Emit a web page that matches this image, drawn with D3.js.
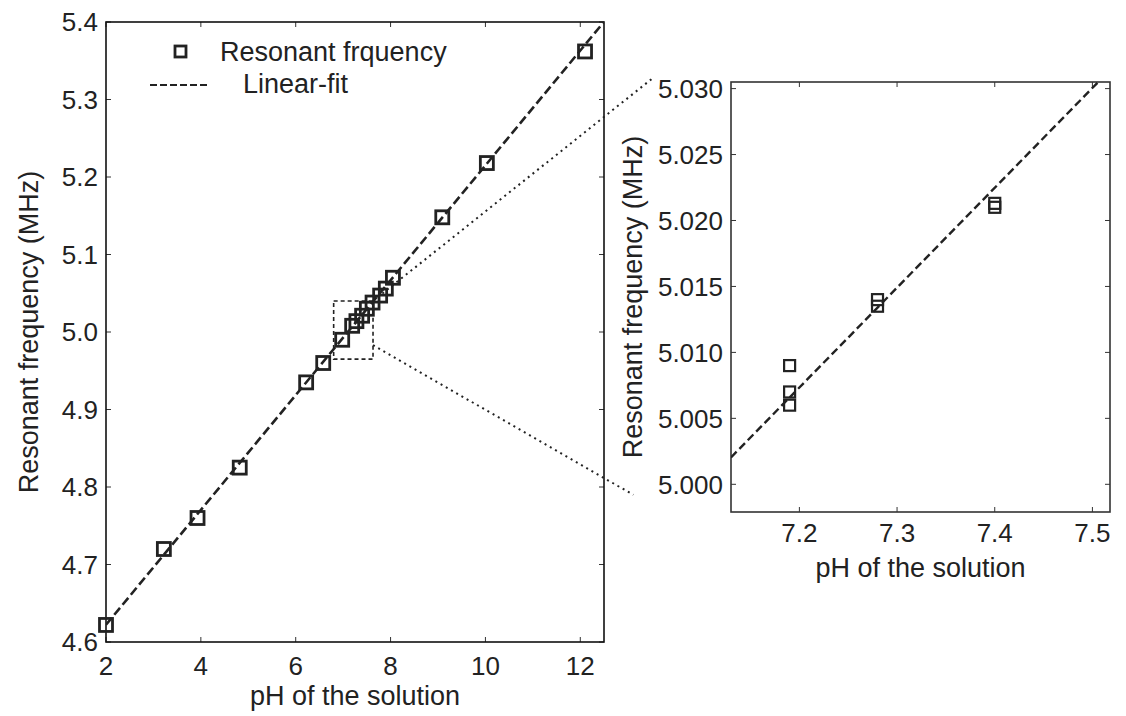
<!DOCTYPE html>
<meta charset="utf-8">
<head>
<style>
body { margin: 0; background: #fff; }
text { font-family: "Liberation Sans", Arial, sans-serif; fill: #222; }
</style>
</head>
<script src="https://d3js.org/d3.v7.min.js"></script>
<div id="chart"></div>
<script>

// main plot data: pH vs resonant frequency (MHz)
var phValues   = [2.0, 3.22, 3.93, 4.82, 6.22, 6.58, 6.98, 7.19, 7.28, 7.40, 7.50, 7.62, 7.78, 7.90, 8.05, 9.09, 10.03, 12.1];
var freqValues = [4.622, 4.720, 4.760, 4.825, 4.935, 4.960, 4.990, 5.008, 5.014, 5.021, 5.030, 5.038, 5.047, 5.056, 5.070, 5.148, 5.218, 5.362];

// zoomed-in points (inset)
var insetPh   = [7.19, 7.19, 7.19, 7.28, 7.28, 7.40, 7.40];
var insetFreq = [5.009, 5.007, 5.006, 5.014, 5.0135, 5.0213, 5.0210];

// linear fits [intercept, slope]
var fitMain  = [4.474, 0.0741];
var fitInset = [4.4623, 0.0757];

// tick labels
var mainXTicks  = [2, 4, 6, 8, 10, 12];
var mainYTicks  = [4.6, 4.7, 4.8, 4.9, 5.0, 5.1, 5.2, 5.3, 5.4];
var insetXTicks = [7.2, 7.3, 7.4, 7.5];
var insetYTicks = [5.000, 5.005, 5.010, 5.015, 5.020, 5.025, 5.030];

// zoom box in main-plot units, connector ends in inset units
var zoomBoxPh   = [6.8, 7.63];
var zoomBoxFreq = [4.965, 5.04];
var connStartFreq = [5.04, 4.983];
var connEndPh   = [7.05, 7.03];
var connEndFreq = [5.0308, 4.9992];

var W = 1126, H = 716;
var svg = d3.select("#chart").append("svg")
  .attr("width", W).attr("height", H);

// ---------- main plot ----------
var m = {left: 106, top: 22, right: 604, bottom: 642};
var x = d3.scaleLinear().domain([2, 12.5]).range([m.left, m.right]);
var y = d3.scaleLinear().domain([4.6, 5.4]).range([m.bottom, m.top]);

// ---------- inset ----------
var n = {left: 731, top: 82, right: 1110, bottom: 512};
var xi = d3.scaleLinear().domain([7.13, 7.518]).range([n.left, n.right]);
var yi = d3.scaleLinear().domain([4.9979, 5.0305]).range([n.bottom, n.top]);

var tickFont = "26px";
var labelFont = "27px";

function drawAxes(xs, ys, box, xt, yt, yfmt, frameColor, tickGap) {
  var g = svg.append("g");
  // inward ticks, all four sides
  xt.forEach(function(t) {
    g.append("line").attr("x1", xs(t)).attr("x2", xs(t))
      .attr("y1", box.bottom).attr("y2", box.bottom - 5).attr("stroke", "#333");
    g.append("line").attr("x1", xs(t)).attr("x2", xs(t))
      .attr("y1", box.top).attr("y2", box.top + 5).attr("stroke", "#333");
    g.append("text").attr("x", xs(t)).attr("y", box.bottom + tickGap)
      .attr("text-anchor", "middle").style("font-size", tickFont)
      .text(t);
  });
  yt.forEach(function(t) {
    g.append("line").attr("x1", box.left).attr("x2", box.left + 5)
      .attr("y1", ys(t)).attr("y2", ys(t)).attr("stroke", "#333");
    g.append("line").attr("x1", box.right).attr("x2", box.right - 5)
      .attr("y1", ys(t)).attr("y2", ys(t)).attr("stroke", "#333");
    g.append("text").attr("x", box.left - 8).attr("y", ys(t)).attr("dy", "0.36em")
      .attr("text-anchor", "end").style("font-size", tickFont)
      .text(yfmt(t));
  });
  g.append("rect")
    .attr("x", box.left).attr("y", box.top)
    .attr("width", box.right - box.left).attr("height", box.bottom - box.top)
    .attr("fill", "none").attr("stroke", frameColor).attr("stroke-width", 1.6);
}

drawAxes(x, y, m, mainXTicks, mainYTicks, d3.format(".1f"), "#111", 33);
drawAxes(xi, yi, n, insetXTicks, insetYTicks, d3.format(".3f"), "#333", 30);

// axis labels
svg.append("text").attr("x", (m.left + m.right) / 2).attr("y", 705)
  .attr("text-anchor", "middle").style("font-size", labelFont).text("pH of the solution");
svg.append("text").attr("transform", "translate(38," + ((m.top + m.bottom) / 2) + ") rotate(-90)")
  .attr("text-anchor", "middle").style("font-size", labelFont).text("Resonant frequency (MHz)");
svg.append("text").attr("x", (n.left + n.right) / 2).attr("y", 577)
  .attr("text-anchor", "middle").style("font-size", labelFont).text("pH of the solution");
svg.append("text").attr("transform", "translate(642," + ((n.top + n.bottom) / 2) + ") rotate(-90)")
  .attr("text-anchor", "middle").style("font-size", labelFont).text("Resonant frequency (MHz)");

// clip paths
svg.append("clipPath").attr("id", "clipMain").append("rect")
  .attr("x", m.left).attr("y", m.top).attr("width", m.right - m.left).attr("height", m.bottom - m.top);
svg.append("clipPath").attr("id", "clipInset").append("rect")
  .attr("x", n.left).attr("y", n.top).attr("width", n.right - n.left).attr("height", n.bottom - n.top);

// fit lines
var xdm = x.domain();
svg.append("line").attr("clip-path", "url(#clipMain)")
  .attr("x1", x(xdm[0])).attr("y1", y(fitMain[0] + fitMain[1] * xdm[0]))
  .attr("x2", x(xdm[1])).attr("y2", y(fitMain[0] + fitMain[1] * xdm[1]))
  .attr("stroke", "#222").attr("stroke-width", 2.6).attr("stroke-dasharray", "9,4");
var xdi = xi.domain();
svg.append("line").attr("clip-path", "url(#clipInset)")
  .attr("x1", xi(xdi[0])).attr("y1", yi(fitInset[0] + fitInset[1] * xdi[0]))
  .attr("x2", xi(xdi[1])).attr("y2", yi(fitInset[0] + fitInset[1] * xdi[1]))
  .attr("stroke", "#222").attr("stroke-width", 2.4).attr("stroke-dasharray", "8,4");

// main markers
var s = 13;
svg.append("g").selectAll("rect").data(phValues).enter().append("rect")
  .attr("x", function(d) { return x(d) - s / 2; })
  .attr("y", function(d, i) { return y(freqValues[i]) - s / 2; })
  .attr("width", s).attr("height", s)
  .attr("fill", "none").attr("stroke", "#222").attr("stroke-width", 2.8);

// inset markers
var si = 11;
svg.append("g").selectAll("rect").data(insetPh).enter().append("rect")
  .attr("x", function(d) { return xi(d) - si / 2; })
  .attr("y", function(d, i) { return yi(insetFreq[i]) - si / 2; })
  .attr("width", si).attr("height", si)
  .attr("fill", "none").attr("stroke", "#222").attr("stroke-width", 2.2);

// zoom box and connectors
svg.append("rect")
  .attr("x", x(zoomBoxPh[0])).attr("y", y(zoomBoxFreq[1]))
  .attr("width", x(zoomBoxPh[1]) - x(zoomBoxPh[0]))
  .attr("height", y(zoomBoxFreq[0]) - y(zoomBoxFreq[1]))
  .attr("fill", "none").attr("stroke", "#222").attr("stroke-width", 1.6)
  .attr("stroke-dasharray", "4,3");
connStartFreq.forEach(function(f, i) {
  svg.append("line")
    .attr("x1", x(zoomBoxPh[1])).attr("y1", y(f))
    .attr("x2", xi(connEndPh[i])).attr("y2", yi(connEndFreq[i]))
    .attr("stroke", "#222").attr("stroke-width", 2).attr("stroke-dasharray", "2,4");
});

// legend
var lg = svg.append("g");
lg.append("rect").attr("x", 175).attr("y", 46).attr("width", 11).attr("height", 11)
  .attr("fill", "none").attr("stroke", "#222").attr("stroke-width", 2.8);
lg.append("text").attr("x", 220).attr("y", 61).style("font-size", labelFont).text("Resonant frquency");
lg.append("line").attr("x1", 150).attr("x2", 208).attr("y1", 85).attr("y2", 85)
  .attr("stroke", "#222").attr("stroke-width", 2.2).attr("stroke-dasharray", "7,3");
lg.append("text").attr("x", 243).attr("y", 93).style("font-size", labelFont).text("Linear-fit");

</script>
